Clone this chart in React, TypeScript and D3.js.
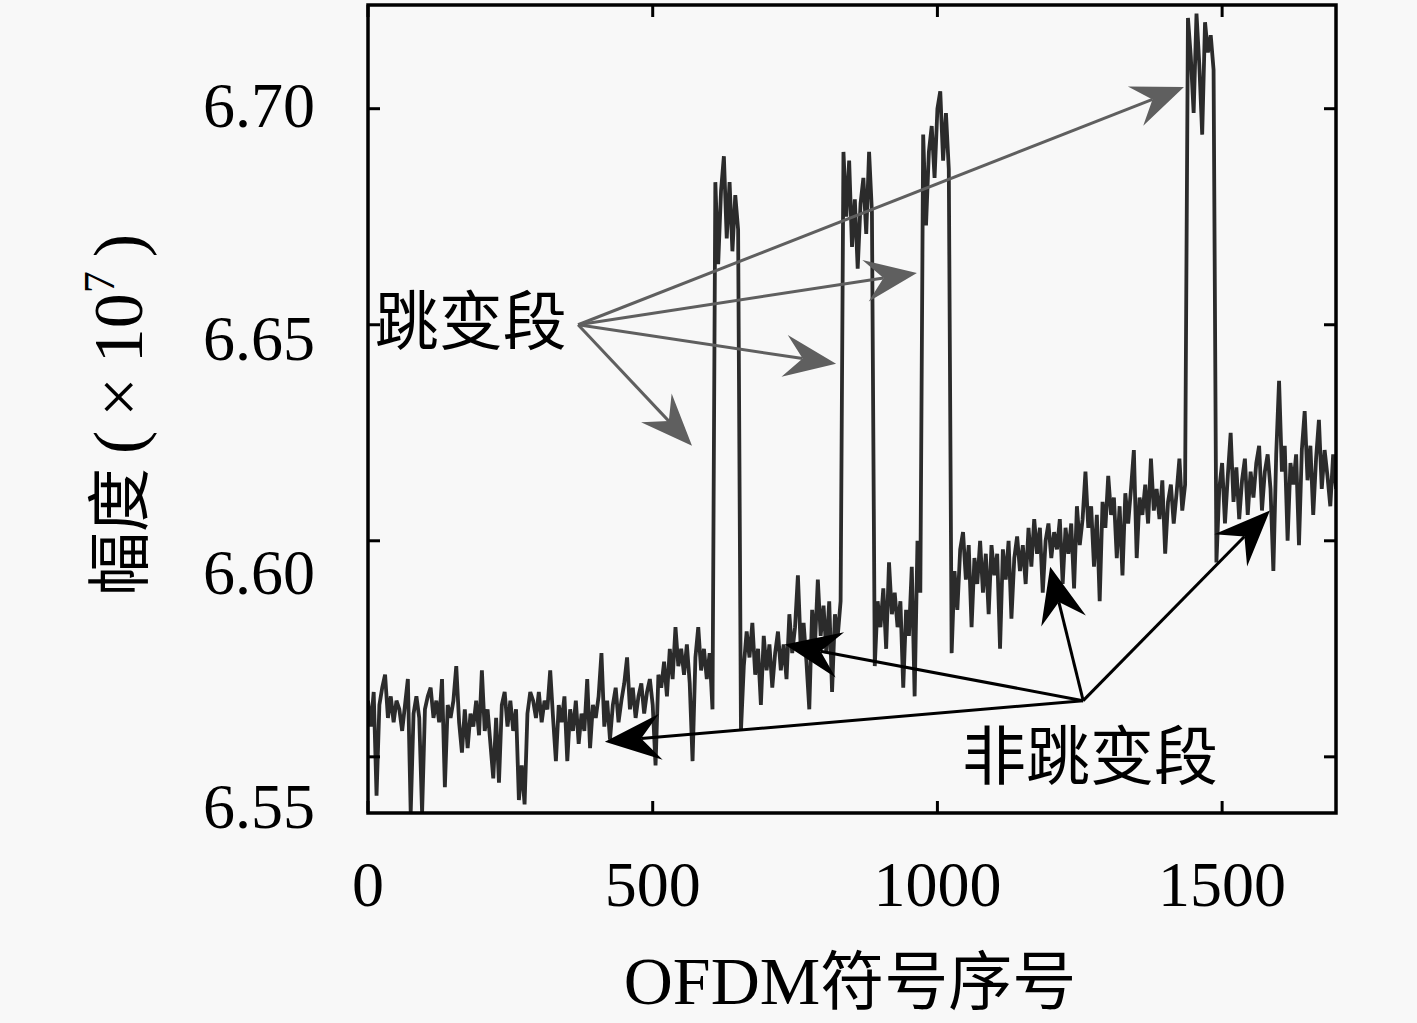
import * as d3 from "d3";

const step = 5;

const lowBaseline = [
  6.563, 6.557, 6.565, 6.541, 6.562, 6.566, 6.569, 6.559, 6.564, 6.558,
  6.563, 6.561, 6.556, 6.562, 6.568, 6.537, 6.56, 6.564, 6.559, 6.537,
  6.561, 6.564, 6.566, 6.559, 6.563, 6.558, 6.568, 6.543, 6.562, 6.559,
  6.563, 6.571, 6.558, 6.551, 6.561, 6.552, 6.56, 6.557, 6.563, 6.555,
  6.57, 6.556, 6.561, 6.553, 6.545, 6.559, 6.544, 6.562, 6.565, 6.557,
  6.563, 6.556, 6.561, 6.54, 6.548, 6.539, 6.56, 6.565, 6.563, 6.559,
  6.565, 6.558, 6.563, 6.561, 6.57, 6.559, 6.549, 6.562, 6.558, 6.564,
  6.549, 6.561, 6.556, 6.563, 6.553, 6.56, 6.556, 6.568, 6.552, 6.562,
  6.559, 6.564, 6.574, 6.557, 6.563, 6.554, 6.562, 6.566, 6.558, 6.563,
  6.567, 6.573, 6.561, 6.566, 6.559, 6.564, 6.567, 6.56, 6.565, 6.568,
  6.562, 6.548, 6.569, 6.566, 6.572, 6.564, 6.575, 6.568, 6.58, 6.571,
  6.575, 6.569, 6.576, 6.567, 6.549, 6.573, 6.58, 6.57, 6.575, 6.568,
  6.574, 6.561,
];
const hop1 = [6.683, 6.664, 6.681, 6.689, 6.67, 6.683, 6.667, 6.68, 6.672];
const midBaseline1 = [
  6.556, 6.571, 6.579, 6.573, 6.581, 6.569, 6.575, 6.562, 6.578, 6.57,
  6.576, 6.566, 6.574, 6.579, 6.57, 6.576, 6.568, 6.583, 6.574, 6.58,
  6.592, 6.575, 6.581, 6.572, 6.561, 6.584, 6.576, 6.591, 6.578, 6.585,
  6.574, 6.586, 6.565, 6.583, 6.578, 6.586,
];
const hop2 = [6.69, 6.675, 6.688, 6.668, 6.679, 6.663, 6.678, 6.684, 6.671, 6.69, 6.676];
const midBaseline2 = [
  6.571, 6.586, 6.58, 6.589, 6.575, 6.595, 6.583, 6.588, 6.58, 6.586,
  6.566, 6.584, 6.578, 6.594, 6.564, 6.6, 6.588,
];
const hop3 = [6.694, 6.673, 6.69, 6.696, 6.684, 6.7, 6.704, 6.688, 6.699, 6.686];
const riseBaseline = [
  6.574, 6.593, 6.584, 6.598, 6.602, 6.591, 6.599, 6.58, 6.596, 6.59,
  6.6, 6.588, 6.597, 6.583, 6.599, 6.592, 6.597, 6.575, 6.598, 6.591,
  6.6, 6.582, 6.596, 6.601, 6.593, 6.599, 6.59, 6.603, 6.594, 6.605,
  6.597, 6.603, 6.588, 6.6, 6.604, 6.596, 6.602, 6.598, 6.605, 6.59,
  6.603, 6.597, 6.604, 6.589, 6.608, 6.599, 6.605, 6.616, 6.603, 6.608,
  6.594, 6.606, 6.586, 6.609, 6.603, 6.615, 6.606, 6.61, 6.596, 6.608,
  6.592, 6.611, 6.604, 6.612, 6.621, 6.596, 6.61, 6.606, 6.613, 6.604,
  6.619, 6.607, 6.612, 6.605, 6.614, 6.597, 6.609, 6.613, 6.604, 6.611,
  6.619, 6.607, 6.613,
];
const hop4 = [6.721, 6.712, 6.699, 6.722, 6.71, 6.694, 6.72, 6.713, 6.717, 6.709];
const highBaseline = [
  6.595, 6.612, 6.618, 6.604, 6.615, 6.625, 6.609, 6.617, 6.605, 6.614,
  6.619, 6.606, 6.616, 6.61, 6.618, 6.622, 6.607, 6.616, 6.62, 6.612,
  6.593, 6.62, 6.637, 6.616, 6.622, 6.6, 6.618, 6.613, 6.62, 6.599,
  6.621, 6.63, 6.614, 6.622, 6.606, 6.619, 6.628, 6.612, 6.621, 6.615,
  6.608, 6.62, 6.612,
];

const segments = [
  { start: 0, values: lowBaseline },
  { start: 610, values: hop1 },
  { start: 655, values: midBaseline1 },
  { start: 835, values: hop2 },
  { start: 890, values: midBaseline2 },
  { start: 975, values: hop3 },
  { start: 1025, values: riseBaseline },
  { start: 1440, values: hop4 },
  { start: 1490, values: highBaseline },
];

const xTicks = [0, 500, 1000, 1500];
const yTicks = [6.55, 6.6, 6.65, 6.7];

// annotation arrows in data coordinates [symbol, amplitude]
const hopOrigin: [number, number] = [369, 6.65];
const hopTips: [number, number][] = [
  [569, 6.622],
  [822, 6.641],
  [964, 6.662],
  [1433, 6.705],
];
const flatOrigin: [number, number] = [1256, 6.563];
const flatTips: [number, number][] = [
  [416, 6.5535],
  [732, 6.576],
  [1198, 6.594],
  [1584, 6.607],
];

const W = 1417;
const H = 1023;
const plot = { left: 368, right: 1336, top: 5, bottom: 813 };

const serif = "'Liberation Serif', 'DejaVu Serif', serif";
const cjk = "'Noto Sans CJK SC', 'Noto Sans', sans-serif";

type Pt = [number, number];

function Arrow({ from, to, color, len, half }: { from: Pt; to: Pt; color: string; len: number; half: number }) {
  const ang = Math.atan2(to[1] - from[1], to[0] - from[0]);
  const deg = (ang * 180) / Math.PI;
  const notch = len * 0.65;
  const bx = to[0] - Math.cos(ang) * notch;
  const by = to[1] - Math.sin(ang) * notch;
  return (
    <g>
      <line x1={from[0]} y1={from[1]} x2={bx} y2={by} stroke={color} strokeWidth={3} />
      <polygon
        points={`0,0 ${-len},${-half} ${-notch},0 ${-len},${half}`}
        fill={color}
        transform={`translate(${to[0]},${to[1]}) rotate(${deg})`}
      />
    </g>
  );
}

export default function App() {
  const x = d3.scaleLinear().domain([0, 1700]).range([plot.left, plot.right]);
  const y = d3.scaleLinear().domain([6.537, 6.724]).range([plot.bottom, plot.top]);
  // tick labels sit slightly off the tick marks in the original figure
  const yLabel = d3.scaleLinear().domain([6.55, 6.7]).range([806, 105]);

  const points: Pt[] = [];
  segments.forEach((s) => s.values.forEach((v, i) => points.push([s.start + i * step, v])));

  const line = d3
    .line<Pt>()
    .x((d) => x(d[0]))
    .y((d) => y(d[1]));

  const px = (d: Pt): Pt => [x(d[0]), y(d[1])];
  const tick = 12;

  return (
    <svg width={W} height={H} style={{ position: "absolute", left: 0, top: 0 }}>
      <rect width={W} height={H} fill="#f8f8f8" />
      <defs>
        <clipPath id="plotClip">
          <rect x={plot.left} y={plot.top} width={plot.right - plot.left} height={plot.bottom - plot.top} />
        </clipPath>
      </defs>

      <path
        d={line(points) ?? ""}
        fill="none"
        stroke="#2b2b2b"
        strokeWidth={3.8}
        strokeLinejoin="miter"
        strokeMiterlimit={3}
        clipPath="url(#plotClip)"
      />

      {hopTips.map((t, i) => (
        <Arrow key={`h${i}`} from={px(hopOrigin)} to={px(t)} color="#5f5f5f" len={52} half={21} />
      ))}
      {flatTips.map((t, i) => (
        <Arrow key={`f${i}`} from={px(flatOrigin)} to={px(t)} color="#000" len={56} half={23} />
      ))}

      <rect
        x={plot.left}
        y={plot.top}
        width={plot.right - plot.left}
        height={plot.bottom - plot.top}
        fill="none"
        stroke="#000"
        strokeWidth={3.5}
      />
      {xTicks.map((t) => (
        <g key={`xt${t}`} stroke="#000" strokeWidth={3}>
          <line x1={x(t)} x2={x(t)} y1={plot.bottom} y2={plot.bottom - tick} />
          <line x1={x(t)} x2={x(t)} y1={plot.top} y2={plot.top + tick} />
        </g>
      ))}
      {yTicks.map((t) => (
        <g key={`yt${t}`} stroke="#000" strokeWidth={3}>
          <line x1={plot.left} x2={plot.left + tick} y1={y(t)} y2={y(t)} />
          <line x1={plot.right} x2={plot.right - tick} y1={y(t)} y2={y(t)} />
        </g>
      ))}

      {xTicks.map((t) => (
        <text key={`xl${t}`} x={x(t)} y={906} textAnchor="middle" fontFamily={serif} fontSize={64} fill="#000">
          {t}
        </text>
      ))}
      {yTicks.map((t) => (
        <text key={`yl${t}`} x={315} y={yLabel(t)} dy="0.34em" textAnchor="end" fontFamily={serif} fontSize={64} fill="#000">
          {t.toFixed(2)}
        </text>
      ))}

      <text x={850} y={1004} textAnchor="middle" fontSize={64} fill="#000">
        <tspan fontFamily={serif} fontSize={68}>OFDM</tspan>
        <tspan fontFamily={cjk}>符号序号</tspan>
      </text>
      <text transform="translate(142,415) rotate(-90)" textAnchor="middle" fontSize={64} fill="#000">
        <tspan fontFamily={cjk}>幅度</tspan>
        <tspan fontFamily={serif} fontSize={70}>{"\u2009(\u2009×\u200910"}</tspan>
        <tspan fontFamily={serif} fontSize={44} dy={-28}>7</tspan>
        <tspan fontFamily={serif} fontSize={70} dy={28}>{"\u2009)"}</tspan>
      </text>

      <text x={x(12)} y={344} fontFamily={cjk} fontSize={64} fill="#000">
        跳变段
      </text>
      <text x={x(1043)} y={779} fontFamily={cjk} fontSize={64} fill="#000">
        非跳变段
      </text>
    </svg>
  );
}
